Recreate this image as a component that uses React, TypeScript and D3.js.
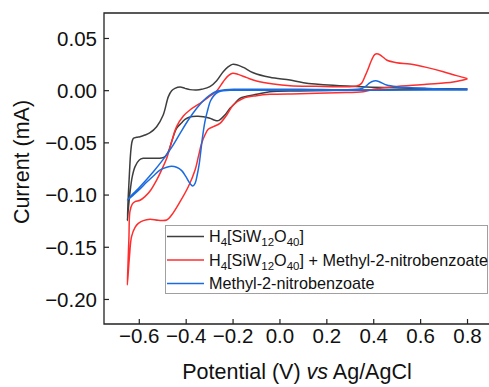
import React from "react";
import * as d3 from "d3";

// Potential (V) vs current (mA), traced in scan order (0.8 V -> -0.65 V -> 0.8 V)
const siwCurve: [number, number][] = [
  [0.8, 0.0016], [0.512, 0.001], [0.37, 0.0006], [0.227, 0.0003], [0.085, -0.0003],
  [-0.043, -0.001], [-0.1, -0.0035], [-0.142, -0.0054], [-0.171, -0.0073], [-0.192, -0.0121],
  [-0.213, -0.0169], [-0.235, -0.0233], [-0.249, -0.0265], [-0.263, -0.0287], [-0.277, -0.0284],
  [-0.299, -0.0265], [-0.327, -0.0249], [-0.355, -0.0246], [-0.384, -0.0252], [-0.405, -0.0275],
  [-0.419, -0.0307], [-0.441, -0.0361], [-0.462, -0.0489], [-0.476, -0.0584], [-0.49, -0.0632],
  [-0.505, -0.0645], [-0.54, -0.0648], [-0.583, -0.0648], [-0.6, -0.0664], [-0.618, -0.0728],
  [-0.63, -0.0824], [-0.64, -0.0983], [-0.647, -0.1143], [-0.651, -0.1245],
  [-0.647, -0.1015], [-0.642, -0.0792], [-0.637, -0.06], [-0.631, -0.0489], [-0.625, -0.0457],
  [-0.611, -0.0447], [-0.597, -0.0441], [-0.576, -0.0425], [-0.554, -0.0402], [-0.526, -0.0345],
  [-0.498, -0.0233], [-0.476, -0.0057], [-0.462, 0.0], [-0.448, 0.0022], [-0.426, 0.0035],
  [-0.405, 0.0022], [-0.384, 0.001], [-0.355, 0.0006], [-0.334, 0.0013], [-0.299, 0.0038],
  [-0.27, 0.0096], [-0.242, 0.0182], [-0.22, 0.023], [-0.203, 0.0252], [-0.185, 0.0249],
  [-0.156, 0.0223], [-0.114, 0.0172], [-0.043, 0.0128], [0.043, 0.0102], [0.1, 0.0077],
  [0.227, 0.0051], [0.37, 0.0035], [0.512, 0.0026], [0.654, 0.0019], [0.8, 0.0016],
];

const mixCurve: [number, number][] = [
  [0.8, 0.0115], [0.739, 0.0083], [0.625, 0.0061], [0.483, 0.0038], [0.398, 0.0013],
  [0.355, -0.001], [0.242, -0.0019], [0.085, -0.0029], [-0.043, -0.0035], [-0.1, -0.0048],
  [-0.156, -0.0073], [-0.199, -0.0137], [-0.227, -0.0233], [-0.256, -0.0313], [-0.284, -0.0345],
  [-0.306, -0.037], [-0.32, -0.0425], [-0.334, -0.0504], [-0.348, -0.0632], [-0.362, -0.076],
  [-0.391, -0.092], [-0.426, -0.1063], [-0.462, -0.1191], [-0.483, -0.1239], [-0.519, -0.1242],
  [-0.554, -0.1232], [-0.583, -0.1245], [-0.604, -0.1271], [-0.618, -0.1309], [-0.633, -0.1398],
  [-0.642, -0.159], [-0.651, -0.1861],
  [-0.648, -0.1654], [-0.644, -0.1398], [-0.64, -0.1159], [-0.63, -0.1086], [-0.618, -0.1063],
  [-0.597, -0.105], [-0.576, -0.1015], [-0.554, -0.0961], [-0.526, -0.0856], [-0.505, -0.076],
  [-0.483, -0.0648], [-0.462, -0.0489], [-0.441, -0.0345], [-0.412, -0.0243], [-0.384, -0.0185],
  [-0.341, -0.0121], [-0.306, -0.0064], [-0.27, -0.0003], [-0.242, 0.0086], [-0.22, 0.0144],
  [-0.202, 0.0166], [-0.178, 0.0156], [-0.142, 0.0125], [-0.1, 0.0093], [-0.028, 0.0064],
  [0.043, 0.0048], [0.156, 0.0042], [0.256, 0.0038], [0.327, 0.0045], [0.348, 0.007],
  [0.362, 0.0134], [0.377, 0.0214], [0.391, 0.0294], [0.405, 0.0348], [0.419, 0.0351],
  [0.434, 0.0332], [0.455, 0.0294], [0.498, 0.0268], [0.554, 0.0255], [0.625, 0.0223],
  [0.697, 0.0182], [0.753, 0.0144], [0.8, 0.0115],
];

const nitroCurve: [number, number][] = [
  [0.8, 0.0006], [0.512, 0.0006], [0.341, 0.0003], [0.085, 0.0003], [-0.128, 0.0003],
  [-0.199, 0.0003], [-0.242, 0.0], [-0.263, -0.0013], [-0.281, -0.0045], [-0.296, -0.0096],
  [-0.31, -0.0201], [-0.32, -0.0297], [-0.33, -0.0441], [-0.337, -0.0568], [-0.344, -0.0696],
  [-0.353, -0.0808], [-0.362, -0.0888], [-0.372, -0.0913], [-0.384, -0.0888], [-0.401, -0.0824],
  [-0.419, -0.0766], [-0.441, -0.0734], [-0.462, -0.0725], [-0.483, -0.0734], [-0.512, -0.076],
  [-0.54, -0.0817], [-0.569, -0.0878], [-0.597, -0.0942], [-0.625, -0.0999], [-0.651, -0.1047],
  [-0.625, -0.0983], [-0.597, -0.092], [-0.54, -0.0776], [-0.498, -0.0658], [-0.462, -0.0543],
  [-0.426, -0.0409], [-0.391, -0.0281], [-0.355, -0.0169], [-0.327, -0.0096], [-0.299, -0.0042],
  [-0.27, -0.0006], [-0.235, 0.001], [-0.171, 0.0013], [0.085, 0.0013], [0.341, 0.0016],
  [0.362, 0.0035], [0.377, 0.0064], [0.391, 0.0086], [0.409, 0.0096], [0.426, 0.0083],
  [0.455, 0.0054], [0.498, 0.0038], [0.625, 0.0022], [0.8, 0.0013],
];

const xTicks = [-0.6, -0.4, -0.2, 0.0, 0.2, 0.4, 0.6, 0.8];
const yTicks = [0.05, 0.0, -0.05, -0.1, -0.15, -0.2];

const colors = ["#3e3e3e", "#ff2e2e", "#1a6be0"];

const W = 489;
const H = 387;
const left = 104;
const right = 496;
const top = 13;
const bottom = 324;

export default function App() {
  const x = d3.scaleLinear().domain([-0.7505, 0.9215]).range([left, right]);
  const y = d3.scaleLinear().domain([-0.2235, 0.0744]).range([bottom, top]);
  const line = d3
    .line<[number, number]>()
    .x((d) => x(d[0]))
    .y((d) => y(d[1]))
    .curve(d3.curveCatmullRom.alpha(0.5));

  const font = "'Liberation Sans', Arial, sans-serif";
  const curves = [siwCurve, mixCurve, nitroCurve];

  const legendX = 165.5;
  const legendY = 225.5;
  const rows = [236.5, 260, 283.5];
  const formula = (suffix: string) => (
    <>
      <tspan>H</tspan>
      <tspan dy={4} fontSize={11.5}>4</tspan>
      <tspan dy={-4}>[SiW</tspan>
      <tspan dy={4} fontSize={11.5}>12</tspan>
      <tspan dy={-4}>O</tspan>
      <tspan dy={4} fontSize={11.5}>40</tspan>
      <tspan dy={-4}>{"]" + suffix}</tspan>
    </>
  );

  return (
    <svg width={W} height={H} style={{ position: "absolute", left: 0, top: 0, background: "#fff" }}>
      <defs>
        <clipPath id="plot">
          <rect x={left} y={top} width={right - left} height={bottom - top} />
        </clipPath>
      </defs>
      <rect x={0} y={0} width={W} height={H} fill="#fff" />
      <g clipPath="url(#plot)">
        {curves.map((c, i) => (
          <path key={i} d={line(c) || ""} fill="none" stroke={colors[i]} strokeWidth={1.5} strokeLinejoin="round" />
        ))}
      </g>
      {/* frame */}
      <path d={`M${right},${top}H${left}V${bottom}H${right}`} fill="none" stroke="#222" strokeWidth={1.3} />
      {xTicks.map((t) => (
        <g key={"x" + t}>
          <line x1={x(t)} x2={x(t)} y1={bottom} y2={bottom - 5} stroke="#222" strokeWidth={1.2} />
          <text x={x(t)} y={343} textAnchor="middle" fontFamily={font} fontSize={20.5} fill="#111">
            {d3.format(".1f")(t)}
          </text>
        </g>
      ))}
      {yTicks.map((t) => (
        <g key={"y" + t}>
          <line x1={left} x2={left + 5} y1={y(t)} y2={y(t)} stroke="#222" strokeWidth={1.2} />
          <text x={97} y={y(t) + 7.3} textAnchor="end" fontFamily={font} fontSize={20.5} fill="#111">
            {d3.format(".2f")(t)}
          </text>
        </g>
      ))}
      <text
        transform={`translate(29,162) rotate(-90)`}
        textAnchor="middle"
        fontFamily={font}
        fontSize={21.5}
        fill="#111"
      >
        Current (mA)
      </text>
      <text x={297} y={379} textAnchor="middle" fontFamily={font} fontSize={21.5} fill="#111">
        Potential (V) <tspan fontStyle="italic">vs</tspan> Ag/AgCl
      </text>
      {/* legend */}
      <rect x={legendX} y={legendY} width={322} height={68} fill="#fff" stroke="#a0a0a0" strokeWidth={1} />
      {rows.map((ry, i) => (
        <line key={"l" + i} x1={167} x2={204} y1={ry} y2={ry} stroke={colors[i]} strokeWidth={1.6} />
      ))}
      <text x={209} y={rows[0] + 5.5} fontFamily={font} fontSize={16.2} fill="#111">
        {formula("")}
      </text>
      <text x={209} y={rows[1] + 5.5} fontFamily={font} fontSize={16.2} fill="#111">
        {formula(" + Methyl-2-nitrobenzoate")}
      </text>
      <text x={209} y={rows[2] + 5.5} fontFamily={font} fontSize={16.2} fill="#111">
        Methyl-2-nitrobenzoate
      </text>
    </svg>
  );
}
